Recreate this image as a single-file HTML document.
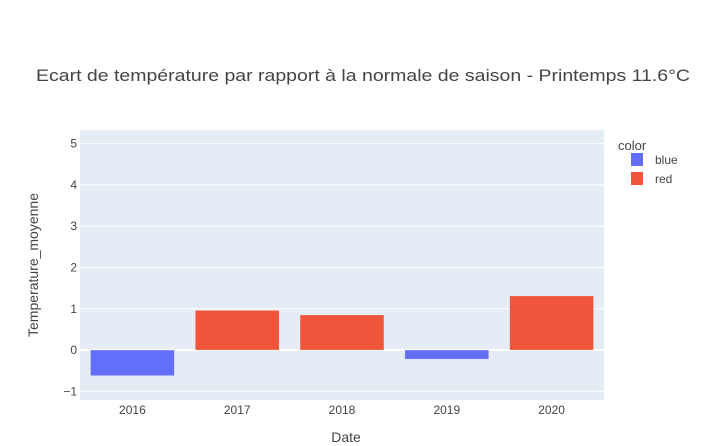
<!DOCTYPE html>
<html><head><meta charset="utf-8"><style>
body{margin:0;background:#fff;}
svg{font-family:"Liberation Sans",Arial,sans-serif;display:block;}
</style></head><body>
<svg id="chart" width="707" height="446">
<rect x="0" y="0" width="707" height="446" fill="#fff"/>
<text x="36" y="81" textLength="654" lengthAdjust="spacingAndGlyphs" font-size="17" fill="#444">Ecart de température par rapport à la normale de saison - Printemps 11.6°C</text>
<rect x="80" y="130" width="524" height="270" fill="#e5ecf6"/>
<g id="grid"></g>
<g id="bars"></g>
<g id="labels"></g>
<text x="346" y="442" text-anchor="middle" font-size="14" fill="#444">Date</text>
<text transform="translate(38,265) rotate(-90)" text-anchor="middle" font-size="14" fill="#444">Temperature_moyenne</text>
<text x="618" y="150" font-size="13" fill="#444">color</text>
<g><rect x="631" y="153" width="12" height="13" fill="#636efa"/><text x="655" y="164" font-size="12" fill="#444">blue</text></g>
<g><rect x="631" y="172" width="12" height="13" fill="#ef553b"/><text x="655" y="183" font-size="12" fill="#444">red</text></g>
</svg>
<script>
const categories=["2016","2017","2018","2019","2020"];
const values=[-0.62,0.96,0.85,-0.22,1.31];
const colors=["blue","red","red","blue","red"];
const yTicks=[-1,0,1,2,3,4,5];
const NS="http://www.w3.org/2000/svg";
const px0=80,pw=524,py0=130,ph=270,ymin=-1.21,ymax=5.33;
const y=v=>py0+ph*(ymax-v)/(ymax-ymin);
const band=pw/categories.length;
const x=i=>px0+band*(i+0.5);
const fill={blue:"#636efa",red:"#ef553b"};
function mk(tag,attrs,parent){const e=document.createElementNS(NS,tag);for(const k in attrs)e.setAttribute(k,attrs[k]);parent.appendChild(e);return e;}
const grid=document.getElementById("grid"),bars=document.getElementById("bars"),labels=document.getElementById("labels");
yTicks.forEach(t=>{
  const l=mk("line",{x1:px0,x2:px0+pw,y1:y(t),y2:y(t),stroke:"#fff","stroke-width":t===0?2:1},grid);
  
  
  const tx=mk("text",{x:px0-3,y:y(t)+4,"text-anchor":"end","font-size":12,fill:"#444"},labels);
  tx.textContent=t===-1?"−1":String(t);
  
  
});
categories.forEach((c,i)=>{
  const v=values[i],w=band*0.8;
  const r=mk("rect",{x:x(i)-w/2,y:Math.min(y(v),y(0)),width:w,height:Math.abs(y(v)-y(0)),fill:fill[colors[i]],stroke:"rgba(255,255,255,0.5)","stroke-width":0.5},bars);
  
  
  const tx=mk("text",{x:x(i),y:py0+ph+14,"text-anchor":"middle","font-size":12,fill:"#444"},labels);
  tx.textContent=c;
  
  
});
</script>
</body></html>
